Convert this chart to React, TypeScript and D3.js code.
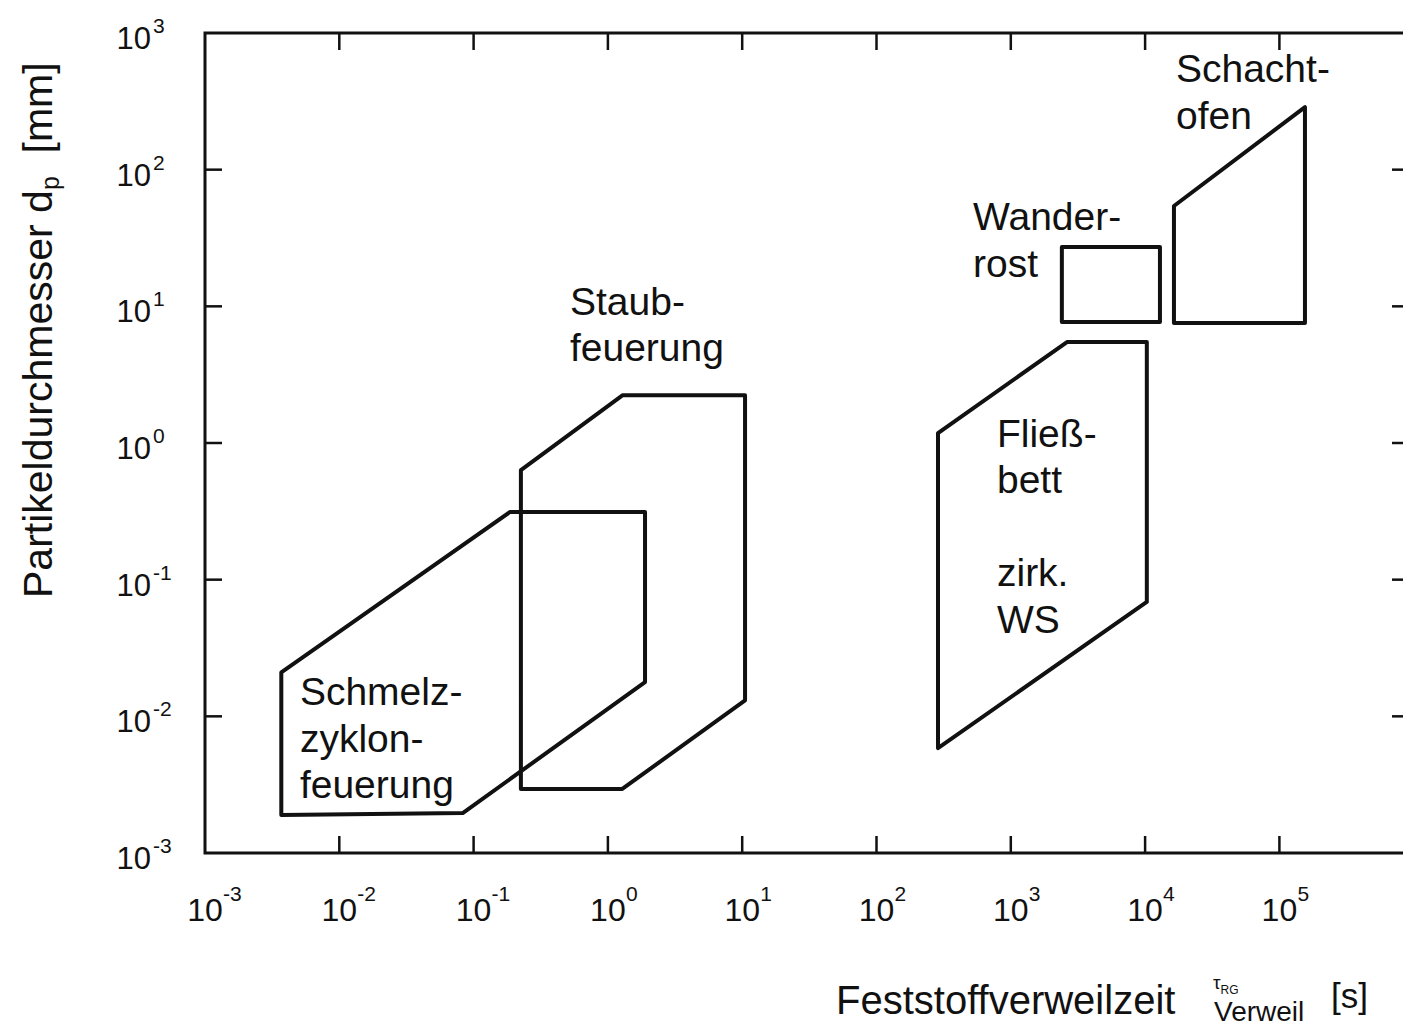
import * as d3 from "d3"

// residence time decades (x) and particle diameter decades (y)
const xDecades = [-3, -2, -1, 0, 1, 2, 3, 4, 5]
const yDecades = [-3, -2, -1, 0, 1, 2, 3]

// regions: [residence time s, particle diameter mm]
const schmelzX = [0.0037, 0.187, 1.89, 1.89, 0.083, 0.0037]
const schmelzY = [0.021, 0.313, 0.313, 0.0178, 0.00196, 0.0019]

const staubX = [0.225, 1.29, 10.5, 10.5, 1.28, 0.225]
const staubY = [0.634, 2.24, 2.24, 0.0131, 0.00294, 0.00294]

const fliessX = [287, 2620, 10300, 10300, 287]
const fliessY = [1.18, 5.48, 5.48, 0.0687, 0.00586]

const wanderX = [2400, 12900, 12900, 2400]
const wanderY = [27.2, 27.2, 7.68, 7.68]

const schachtX = [16400, 155000, 155000, 16400]
const schachtY = [54.2, 287, 7.55, 7.55]

const regions = [
    { xs: schmelzX, ys: schmelzY },
    { xs: staubX, ys: staubY },
    { xs: fliessX, ys: fliessY },
    { xs: wanderX, ys: wanderY },
    { xs: schachtX, ys: schachtY },
]

// label anchors (data coords of first baseline) and lines
const labels = [
    { x: 0.00509, y: 0.0121, lines: ["Schmelz-", "zyklon-", "feuerung"] },
    { x: 0.522, y: 8.65, lines: ["Staub-", "feuerung"] },
    { x: 789, y: 0.936, lines: ["Fließ-", "bett", "", "zirk.", "WS"] },
    { x: 524, y: 36.1, lines: ["Wander-", "rost"] },
    { x: 16980, y: 437, lines: ["Schacht-", "ofen"] },
]

const FONT = "'Liberation Sans', Arial, Helvetica, sans-serif"
const INK = "#111"

export default function App() {
    const width = 1403
    const height = 1028

    const x = d3.scaleLog().domain([1e-3, 1e6]).range([205, 205 + 9 * 134.3])
    const y = d3.scaleLog().domain([1e-3, 1e3]).range([853, 33])

    const left = x(1e-3)
    const right = 1410
    const top = y(1e3)
    const bottom = y(1e-3)

    const line = d3.line<[number, number]>()
        .x((d) => x(d[0]))
        .y((d) => y(d[1]))
        .curve(d3.curveLinearClosed)

    const expText = (e: number) => (e < 0 ? "-" + -e : String(e))

    return (
        <svg width={width} height={height} style={{ position: "absolute", left: 0, top: 0, background: "#fff" }} fontFamily={FONT}>
            <rect x={0} y={0} width={width} height={height} fill="#fff" />
            {/* frame */}
            <path
                d={`M${left},${top}H${right}V${bottom}H${left}Z`}
                fill="none"
                stroke={INK}
                strokeWidth={3}
            />
            {/* ticks */}
            {xDecades.slice(1).map((e) => (
                <g key={"xt" + e}>
                    <line x1={x(10 ** e)} x2={x(10 ** e)} y1={bottom} y2={bottom - 17} stroke={INK} strokeWidth={2.5} />
                    <line x1={x(10 ** e)} x2={x(10 ** e)} y1={top} y2={top + 17} stroke={INK} strokeWidth={2.5} />
                </g>
            ))}
            {yDecades.slice(1, -1).map((e) => (
                <g key={"yt" + e}>
                    <line x1={left} x2={left + 17} y1={y(10 ** e)} y2={y(10 ** e)} stroke={INK} strokeWidth={2.5} />
                    <line x1={right} x2={right - 18} y1={y(10 ** e)} y2={y(10 ** e)} stroke={INK} strokeWidth={2.5} />
                </g>
            ))}
            {/* tick labels */}
            {xDecades.map((e) => (
                <g key={"xl" + e} fill={INK}>
                    <text x={x(10 ** e)} y={921} textAnchor="middle" fontSize={32}>10</text>
                    <text x={x(10 ** e) + 18} y={901} fontSize={21}>{expText(e)}</text>
                </g>
            ))}
            {yDecades.map((e) => (
                <g key={"yl" + e} fill={INK}>
                    <text x={151} y={y(10 ** e) + 16} textAnchor="end" fontSize={31}>10</text>
                    <text x={153} y={y(10 ** e)} fontSize={21}>{expText(e)}</text>
                </g>
            ))}
            {/* regions */}
            {regions.map((r, i) => (
                <path
                    key={"r" + i}
                    d={line(r.xs.map((v, j) => [v, r.ys[j]] as [number, number])) ?? ""}
                    fill="none"
                    stroke={INK}
                    strokeWidth={4}
                    strokeLinejoin="round"
                />
            ))}
            {/* region labels */}
            {labels.map((l, i) => (
                <text key={"l" + i} x={x(l.x)} y={y(l.y)} fontSize={39} fill={INK}>
                    {l.lines.map((t, j) => (
                        <tspan key={j} x={x(l.x)} dy={j === 0 ? 0 : 46.5}>{t || "\u00a0"}</tspan>
                    ))}
                </text>
            ))}
            {/* y axis title */}
            <text transform="translate(52,598) rotate(-90)" fontSize={41} fill={INK}>
                Partikeldurchmesser d<tspan fontSize={25} dy={7}>p</tspan>
                <tspan dy={-7}>{"\u00a0 [mm]"}</tspan>
            </text>
            {/* x axis title */}
            <text x={836} y={1014} fontSize={40} fill={INK}>Feststoffverweilzeit</text>
            <text x={1213} y={989} fontSize={19} fill={INK}>τ<tspan fontSize={12} dy={5}>RG</tspan></text>
            <text x={1214} y={1021} fontSize={28} fill={INK}>Verweil</text>
            <text x={1331} y={1008} fontSize={35} fill={INK}>[s]</text>
        </svg>
    )
}
